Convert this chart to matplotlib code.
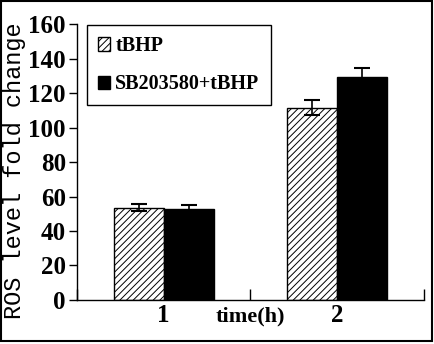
import matplotlib
matplotlib.use("Agg")
import matplotlib.pyplot as plt
from matplotlib.patches import Rectangle
import numpy as np

# ROS fold change per time point
times = ["1", "2"]
tbhp_mean = [53.5, 111.5]
tbhp_err = [2.0, 4.5]
sb_mean = [52.5, 129.5]
sb_err = [2.5, 5.0]
yticks = [0, 20, 40, 60, 80, 100, 120, 140, 160]

plt.rcParams["hatch.linewidth"] = 0.7

num_font = dict(family="Liberation Serif", weight="bold", size=18)

fig = plt.figure(figsize=(4.34, 3.44), dpi=100)
ax = fig.add_axes([0.1774, 0.128, 0.7995, 0.802])

x = np.arange(1, len(times) + 1)
w = 0.288
err_kw = dict(ecolor="black", elinewidth=1.2, capsize=6, capthick=1.5)
ax.bar(x - w / 2, tbhp_mean, w, yerr=tbhp_err, color="white", edgecolor="black",
       linewidth=1.0, hatch="/////", label="tBHP", error_kw=err_kw)
ax.bar(x + w / 2, sb_mean, w, yerr=sb_err, color="black", edgecolor="black",
       linewidth=1.0, label="SB203580+tBHP", error_kw=err_kw)

ax.set_xlim(0.5, len(times) + 0.5)
ax.set_ylim(0, 160)
ax.set_yticks(yticks)
ax.set_yticklabels([str(v) for v in yticks], fontdict=num_font)
ax.set_xticks(x)
ax.set_xticklabels(times, fontdict=num_font)
ax.set_xticks(np.arange(0.5, len(times) + 1, 1.0), minor=True)
ax.tick_params(axis="x", which="major", length=0, pad=3)
ax.tick_params(axis="x", which="minor", direction="in", length=8, width=1)
ax.tick_params(axis="y", direction="out", length=6, width=1, pad=2)

for side in ("top", "right"):
    ax.spines[side].set_visible(False)
for side in ("left", "bottom"):
    ax.spines[side].set_linewidth(1.0)

ax.set_ylabel("ROS level fold change", family="Liberation Mono", size=17)
ax.yaxis.set_label_coords(-0.148, 0.47)
ax.set_xlabel("time(h)", family="Liberation Serif", weight="bold", size=16, va="top")
ax.xaxis.set_label_coords(0.5, -0.025)

leg = ax.legend(loc="upper left", bbox_to_anchor=(0.029, 0.996), borderaxespad=0,
                fancybox=False, edgecolor="black", framealpha=1,
                prop=dict(family="Liberation Serif", weight="bold", size=14.5),
                handlelength=0.6, handleheight=0.65, handletextpad=0.25,
                labelspacing=0.9, borderpad=0.55)
leg.get_frame().set_linewidth(1.0)

# frame around the whole figure
fig.patches.append(Rectangle((0.002, 0.008), 0.994, 0.988, transform=fig.transFigure,
                             fill=False, edgecolor="black", linewidth=1.5))

fig.savefig("out.png", dpi=100)
